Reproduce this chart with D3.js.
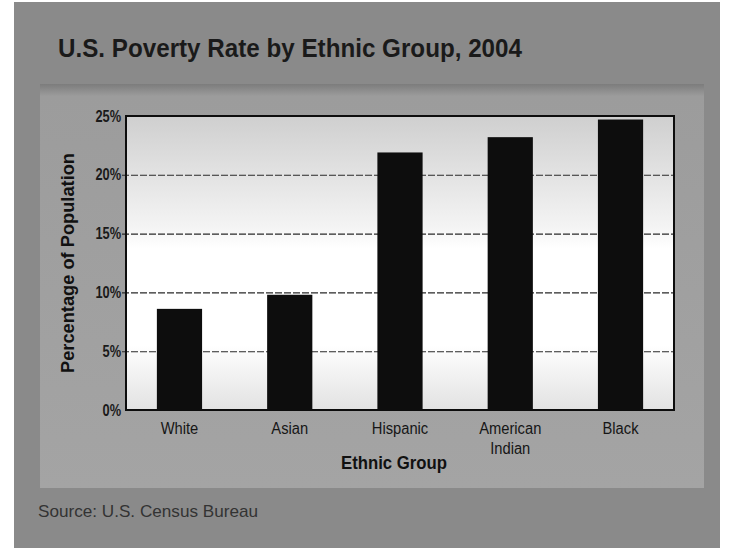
<!DOCTYPE html>
<html>
<head>
<meta charset="utf-8">
<script src="https://cdn.jsdelivr.net/npm/d3@7"></script>
<style>
  body { margin: 0; background: #fff; }
  svg text { font-family: "Liberation Sans Narrow", "Arial Narrow", "Liberation Sans", sans-serif; }
</style>
</head>
<body>
<svg width="729" height="550"></svg>
<script>
// data
var groups = ["White", "Asian", "Hispanic", "American Indian", "Black"];
var rates = [8.6, 9.8, 21.9, 23.2, 24.7];
var tickValues = [0, 5, 10, 15, 20, 25];

var svg = d3.select("svg"),
    margin = { top: 116, right: 55, bottom: 140, left: 126 },
    width = svg.attr("width") - margin.left - margin.right,
    height = svg.attr("height") - margin.top - margin.bottom;

var defs = svg.append("defs");

var plotGrad = defs.append("linearGradient")
    .attr("id", "plotGrad").attr("x1", 0).attr("y1", 0).attr("x2", 0).attr("y2", 1);
plotGrad.append("stop").attr("offset", "0%").attr("stop-color", "#cfcfcf");
plotGrad.append("stop").attr("offset", "38%").attr("stop-color", "#f4f4f4");
plotGrad.append("stop").attr("offset", "45%").attr("stop-color", "#ffffff");
plotGrad.append("stop").attr("offset", "78%").attr("stop-color", "#ffffff");
plotGrad.append("stop").attr("offset", "100%").attr("stop-color", "#e2e2e2");

var panelGrad = defs.append("linearGradient")
    .attr("id", "panelGrad").attr("x1", 0).attr("y1", 0).attr("x2", 0).attr("y2", 1);
panelGrad.append("stop").attr("offset", "0%").attr("stop-color", "#7c7c7c");
panelGrad.append("stop").attr("offset", "3%").attr("stop-color", "#9c9c9c");
panelGrad.append("stop").attr("offset", "100%").attr("stop-color", "#a4a4a4");

// scanned page and inner panel
svg.append("rect")
    .attr("x", 14).attr("y", 2).attr("width", 706).attr("height", 546)
    .attr("fill", "#8a8a8a");
svg.append("rect")
    .attr("x", 40).attr("y", 84).attr("width", 664).attr("height", 404)
    .attr("fill", "url(#panelGrad)");

// title
svg.append("text")
    .attr("x", 58).attr("y", 57)
    .attr("font-size", 25).attr("font-weight", "bold")
    .attr("fill", "#1a1a1a")
    .attr("textLength", 464).attr("lengthAdjust", "spacingAndGlyphs")
    .text("U.S. Poverty Rate by Ethnic Group, 2004");

var xScale = d3.scaleBand().domain(groups).range([0, width])
        .paddingInner(0.59).paddingOuter(0.28),
    yScale = d3.scaleLinear().domain([0, 25]).range([height, 0]);

var g = svg.append("g")
    .attr("transform", "translate(" + margin.left + "," + margin.top + ")");

// plot background
g.append("rect")
    .attr("width", width).attr("height", height)
    .attr("fill", "url(#plotGrad)");

// gridlines
g.append("g")
    .call(d3.axisLeft(yScale).tickValues(tickValues.slice(1, -1)).tickSize(-width - 4).tickFormat(""))
    .attr("transform", "translate(-4,0)")
    .call(function(s) { s.select(".domain").remove(); })
    .selectAll("line")
    .attr("stroke", "#2a2a2a")
    .attr("stroke-width", 1.1)
    .attr("stroke-dasharray", "7,2");

// y tick labels (condensed look)
var yAxis = g.append("g")
    .call(d3.axisLeft(yScale).tickValues(tickValues).tickSize(0).tickPadding(0)
        .tickFormat(function(d) { return d + "%"; }));
yAxis.select(".domain").remove();
yAxis.selectAll("text")
    .attr("x", 0)
    .attr("transform", "translate(-5,0) scale(0.8,1)")
    .attr("font-size", 16)
    .attr("font-weight", "bold")
    .attr("fill", "#1a1a1a");

// bars
g.selectAll(".bar")
    .data(groups)
    .enter().append("rect")
    .attr("class", "bar")
    .attr("x", function(d) { return xScale(d); })
    .attr("y", function(d, i) { return yScale(rates[i]); })
    .attr("width", xScale.bandwidth())
    .attr("height", function(d, i) { return height - yScale(rates[i]); })
    .attr("fill", "#0d0d0d");

// plot frame
g.append("rect")
    .attr("width", width).attr("height", height)
    .attr("fill", "none")
    .attr("stroke", "#0d0d0d").attr("stroke-width", 2);

// category labels
var xAxis = g.append("g")
    .attr("transform", "translate(0," + height + ")")
    .call(d3.axisBottom(xScale).tickSize(0).tickPadding(10));
xAxis.select(".domain").remove();
xAxis.selectAll("text").remove();
xAxis.selectAll(".tick").append("text")
    .attr("text-anchor", "middle")
    .attr("font-size", 16)
    .attr("fill", "#161616")
    .attr("transform", "scale(0.92,1)")
    .each(function(d) {
        var words = d.split(" ");
        var t = d3.select(this);
        words.forEach(function(w, i) {
            t.append("tspan").attr("x", 0).attr("y", 24 + i * 20).text(w);
        });
    });

// axis titles
svg.append("text")
    .attr("x", margin.left + width / 2 - 6)
    .attr("y", 469)
    .attr("text-anchor", "middle")
    .attr("font-size", 19).attr("font-weight", "bold")
    .attr("fill", "#111")
    .attr("textLength", 106).attr("lengthAdjust", "spacingAndGlyphs")
    .text("Ethnic Group");

svg.append("text")
    .attr("transform", "rotate(-90)")
    .attr("x", -(margin.top + height / 2))
    .attr("y", 74)
    .attr("text-anchor", "middle")
    .attr("font-size", 19).attr("font-weight", "bold")
    .attr("fill", "#111")
    .attr("textLength", 220).attr("lengthAdjust", "spacingAndGlyphs")
    .text("Percentage of Population");

// source
svg.append("text")
    .attr("x", 38).attr("y", 517)
    .attr("font-size", 17)
    .attr("fill", "#333")
    .attr("textLength", 220).attr("lengthAdjust", "spacingAndGlyphs")
    .text("Source: U.S. Census Bureau");
</script>
</body>
</html>
